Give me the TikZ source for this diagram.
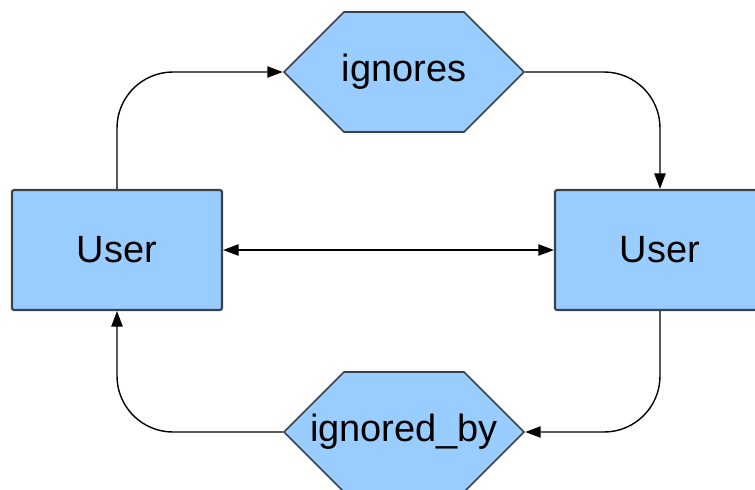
\documentclass[tikz,border=0pt]{standalone}
\usepackage{fontspec}
\setmainfont{Liberation Sans}
\usetikzlibrary{shapes.symbols, arrows.meta, positioning}

\definecolor{boxblue}{HTML}{99CCFF}
\definecolor{boxline}{HTML}{3A424C}

\begin{document}
\begin{tikzpicture}[x=0.025cm, y=-0.025cm, >={Triangle[length=11pt, width=8pt]},
        usr/.style={draw=boxline, fill=boxblue, line width=1.5pt, rounded corners=1.5pt, minimum width=5.25cm, minimum height=3cm, font=\fontsize{27}{30}\selectfont},
        rel/.style={signal, signal to=east and west, draw=boxline, fill=boxblue, line width=1.2pt, minimum width=6cm, minimum height=3cm, inner sep=0pt, font=\fontsize{27}{30}\selectfont},
        lnk/.style={line width=1pt, rounded corners=1.4cm}]
        \useasboundingbox (0,0) rectangle (755,489);
        \clip (0,0) rectangle (755,489);
        \node[usr] (left) at (117,250) {User};
        \node[usr] (right) at (660,250) {User};
        \node[rel] (ign) at (404,72) {\makebox[0pt]{ignores}};
        \node[rel] (ignby) at (404,432) {\makebox[0pt]{ignored\_by}};
        \draw[->, lnk] (left.north) |- (ign.west);
        \draw[->, lnk] (ign.east) -| (right.north);
        \draw[->, lnk] (right.south) |- (ignby.east);
        \draw[->, lnk] (ignby.west) -| (left.south);
        \draw[<->, lnk] (left) -- (right);
    \end{tikzpicture}
\end{document}
